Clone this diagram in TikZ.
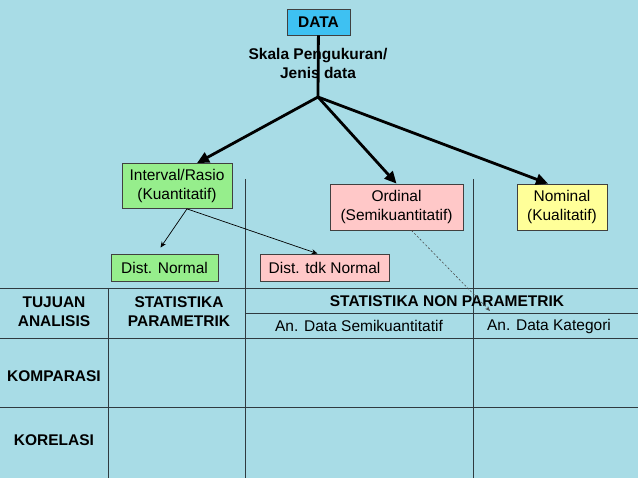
\documentclass[tikz,border=0pt]{standalone}
\usepackage{fontspec}
\setmainfont{Liberation Sans}
\usepackage{xcolor}
\definecolor{water}{HTML}{A8DCE6}
\definecolor{datablue}{HTML}{3EC1F2}
\definecolor{kuantgreen}{HTML}{96EE8C}
\definecolor{ordpink}{HTML}{FFC8C8}
\definecolor{nomyellow}{HTML}{FFFF99}
\definecolor{gridline}{HTML}{2F3A40}
\usetikzlibrary{arrows.meta}

\begin{document}
\begin{tikzpicture}[x=1pt,y=-1pt,
  every node/.style={font=\fontsize{15.5}{19}\selectfont},
  box/.style={draw=black!75,line width=0.8pt,inner sep=0pt,align=center},
  head/.style={font=\fontsize{15.5}{19}\selectfont\bfseries,align=center},
  bigarrow/.style={line width=2.8pt,-{Triangle[length=12pt,width=11pt]}},
  thinarrow/.style={line width=0.7pt,-{Stealth[length=6pt,width=5pt]}},
  dasharrow/.style={draw=black!70,line width=0.6pt,dash pattern=on 2pt off 2pt,-{Stealth[length=5pt,width=4pt]}},
  grid/.style={draw=gridline,line width=0.9pt}]
  % Background
  \fill[water] (0,0) rectangle (638,478);
  \useasboundingbox (0,0) rectangle (638,478);

  % Table lines
  \draw[grid] (0,288) -- (638,288);
  \draw[grid] (245,313) -- (638,313);
  \draw[grid] (0,338) -- (638,338);
  \draw[grid] (0,407) -- (638,407);
  \draw[grid] (108,288) -- (108,478);
  \draw[grid] (245,179) -- (245,478);
  \draw[grid] (473,179) -- (473,478);

  % Top of the tree
  \node[box,fill=datablue,minimum width=63pt,minimum height=26pt,font=\fontsize{15.5}{19}\selectfont\bfseries] (data) at (318.5,22) {DATA};
  \coordinate (cabang) at (318,97);
  \draw[line width=2.8pt] (data) -- (cabang);
  \node[head] (skala) at (318,63) {Skala Pengukuran/\\Jenis data};

  % Kinds of data
  \node[box,fill=kuantgreen,minimum width=110pt,minimum height=45pt] (interval) at (177,186) {Interval/Rasio\\(Kuantitatif)};
  \node[box,fill=ordpink,minimum width=133pt,minimum height=46pt] (ordinal) at (396.5,207) {Ordinal\\(Semikuantitatif)};
  \node[box,fill=nomyellow,minimum width=90pt,minimum height=46pt] (nominal) at (562,207) {Nominal\\(Kualitatif)};
  \node[box,fill=kuantgreen,minimum width=107pt,minimum height=27pt] (normal) at (164.5,267.5) {Dist. Normal};
  \node[box,fill=ordpink,minimum width=129pt,minimum height=27pt] (tdknormal) at (324.5,267.5) {Dist. tdk Normal};

  \draw[bigarrow] (cabang) -- ([xshift=20pt]interval.north);
  \draw[bigarrow] (cabang) -- (ordinal.north);
  \draw[bigarrow] (cabang) -- ([xshift=-14pt]nominal.north);
  \draw[thinarrow] ([xshift=10pt]interval.south) -- ([xshift=-4pt,yshift=6pt]normal.north);
  \draw[thinarrow] ([xshift=10pt]interval.south) -- ([xshift=-7pt]tdknormal.north);

  % Table texts
  \node[head] (tujuan) at (54,312) {TUJUAN\\ANALISIS};
  \node[head] (parametrik) at (179,312) {STATISTIKA\\PARAMETRIK};
  \node[head] (nonpar) at (447,301) {STATISTIKA NON PARAMETRIK};
  \node (semikuant) at (359,326) {An. Data Semikuantitatif};
  \node (kategori) at (549,326) {An. Data Kategori};
  \node[head] (komparasi) at (54,376) {KOMPARASI};
  \node[head] (korelasi) at (54,440) {KORELASI};

  \coordinate (kategoritip) at (490,311);
  \draw[dasharrow] ([xshift=15pt]ordinal.south) -- (kategoritip);
\end{tikzpicture}
\end{document}
